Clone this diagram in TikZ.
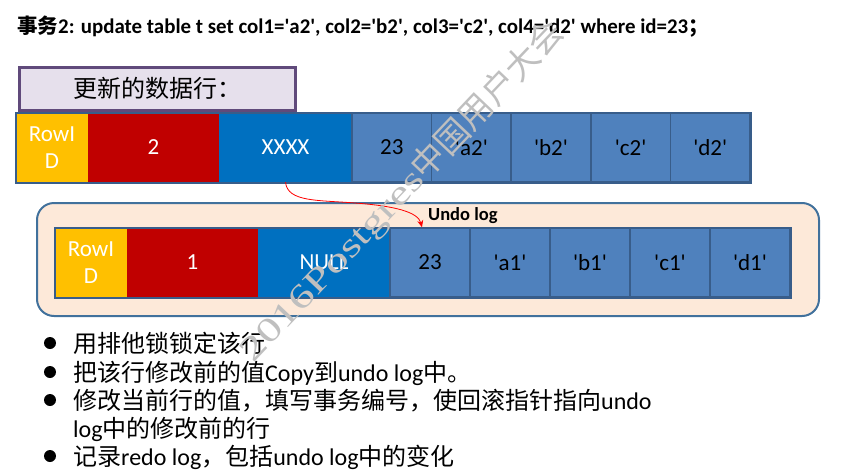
\documentclass[tikz,border=0pt]{standalone}
\usepackage{fontspec}
\setmainfont{Carlito}
\newfontfamily\cjk{Noto Sans CJK SC}
\newfontfamily\wmfont{Liberation Serif}
\newcommand\zhtxt[1]{{\cjk #1}}
\newcommand\sq{\textquotesingle}
\usetikzlibrary{arrows.meta}
\definecolor{rowblue}{HTML}{4F81BD}
\definecolor{rowedge}{HTML}{385D8A}
\definecolor{ridyellow}{HTML}{FFC000}
\definecolor{txred}{HTML}{C00000}
\definecolor{ptrblue}{HTML}{0070C0}
\definecolor{undofill}{HTML}{FDE9D9}
\definecolor{undoedge}{HTML}{41719C}
\definecolor{hdrfill}{HTML}{E6E0EC}
\definecolor{hdredge}{HTML}{604A7B}
\tikzset{
  cell/.style={inner sep=0pt, minimum height=69pt, font=\fontsize{23}{27}\selectfont},
  ridcell/.style={cell, fill=ridyellow, text=white, minimum width=72pt, align=center},
  txcell/.style={cell, fill=txred, text=white, minimum width=131pt},
  ptrcell/.style={cell, fill=ptrblue, text=white, minimum width=132pt},
  colcell/.style={cell, fill=rowblue, draw=rowedge, line width=1.5pt, minimum width=79.6pt},
  rowframe/.style={draw=rowedge, line width=2pt},
  bodytext/.style={anchor=base west, inner sep=0pt, font=\fontsize{24}{28}\selectfont},
  bulletdot/.style={circle, fill=black, inner sep=0pt, minimum size=12pt},
  linkarrow/.style={red, line width=0.8pt, -{Stealth[length=7pt,width=6pt]}}
}
\begin{document}
\begin{tikzpicture}[x=1pt,y=-1pt]
\useasboundingbox (0,0) rectangle (849,474);
% title
\node[anchor=base west, inner sep=0pt, font=\bfseries\fontsize{20.9}{25}\selectfont] (title) at (17,33)
  {{\cjk\fontsize{20.5}{24}\selectfont\bfseries 事务}2: update table t set col1=\sq a2\sq, col2=\sq b2\sq, col3=\sq c2\sq, col4=\sq d2\sq{} where id=23{\cjk\fontsize{20.5}{24}\selectfont\bfseries ；}};
% header box
\node[draw=hdredge, fill=hdrfill, line width=3pt, minimum width=276pt, minimum height=43pt, anchor=north west, inner sep=0pt] (hdr) at (17.5,65.5) {};
\node[anchor=base west, inner sep=0pt, font=\fontsize{24}{28}\selectfont] (hdrtxt) at (73,97) {\zhtxt{更新的数据行：}};
% top row
\node[ridcell] (trid) at (52,147.5) {RowI\\D};
\node[txcell] (ttx) at (153.5,147.5) {2};
\node[ptrcell, minimum width=133pt] (tptr) at (285.5,147.5) {XXXX};
\node[colcell] (tid) at (391.8,147.5) {23};
\node[colcell] (ta) at (471.4,147.5) {\sq a2\sq};
\node[colcell] (tb) at (551.0,147.5) {\sq b2\sq};
\node[colcell] (tc) at (630.6,147.5) {\sq c2\sq};
\node[colcell] (td) at (710.2,147.5) {\sq d2\sq};
\draw[rowframe] (trid.north west) rectangle (td.south east);
% undo log container
\node[draw=undoedge, fill=undofill, rounded corners=17pt, line width=2pt, minimum width=782pt, minimum height=113pt, anchor=north west, inner sep=0pt] (undo) at (36,202) {};
\node[anchor=base west, inner sep=0pt, font=\bfseries\fontsize{18.5}{22}\selectfont] (undolbl) at (428,220) {Undo log};
% bottom row
\node[ridcell] (urid) at (91,262.5) {RowI\\D};
\node[txcell] (utx) at (192.5,262.5) {1};
\node[ptrcell] (uptr) at (324,262.5) {NULL};
\node[colcell, minimum width=80pt] (uid) at (430,262.5) {23};
\node[colcell, minimum width=80pt] (ua) at (510,262.5) {\sq a1\sq};
\node[colcell, minimum width=80pt] (ub) at (590,262.5) {\sq b1\sq};
\node[colcell, minimum width=80pt] (uc) at (670,262.5) {\sq c1\sq};
\node[colcell, minimum width=80pt] (ud) at (750,262.5) {\sq d1\sq};
\draw[rowframe] (urid.north west) rectangle (ud.south east);
% pointer arrow
\draw[linkarrow] (tptr.south) .. controls ([shift={(2,20)}]tptr.south) and (318,200) .. (355,203)
  .. controls (395,206) and (418,212) .. ([xshift=-8pt]uid.north);
% bullets
\node[bulletdot] (b1) at (50,343) {};
\node[bulletdot] (b2) at (50,372) {};
\node[bulletdot] (b3) at (50,400) {};
\node[bulletdot] (b5) at (50,456) {};
\node[bodytext] (l1) at (73,352) {\zhtxt{用排他锁锁定该行}};
\node[bodytext] (l2) at (73,381) {\zhtxt{把该行修改前的值}Copy\zhtxt{到}undo log\zhtxt{中。}};
\node[bodytext] (l3) at (73,409) {\zhtxt{修改当前行的值，填写事务编号，使回滚指针指向}undo};
\node[bodytext] (l4) at (73,437) {log\zhtxt{中的修改前的行}};
\node[bodytext] (l5) at (73,465) {\zhtxt{记录}redo log\zhtxt{，包括}undo log\zhtxt{中的变化}};
% watermark
\node[rotate=46.5, anchor=base west, inner sep=0pt, text=black!25, font=\fontsize{34}{34}\selectfont] (wm) at (253,364)
  {\wmfont\scalebox{1.37}[1]{2016Postgres}\zhtxt{中国用户大会}};
\end{tikzpicture}
\end{document}
